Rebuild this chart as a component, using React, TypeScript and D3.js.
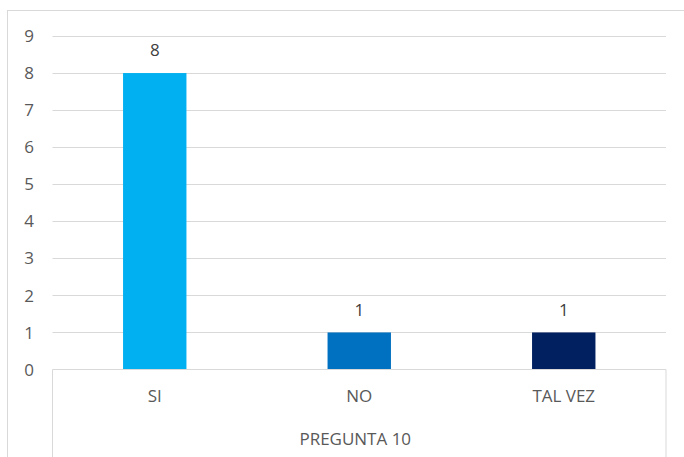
import React from "react";
import * as d3 from "d3";

const categories = ["SI", "NO", "TAL VEZ"];
const values = [8, 1, 1];
const colors = ["#00B0F0", "#0070C0", "#002060"];
const yTicks = [0, 1, 2, 3, 4, 5, 6, 7, 8, 9];
const groupLabel = "PREGUNTA 10";

export default function App() {
  const W = 684, H = 457;
  const left = 52.5, right = 666, top = 36, bottom = 369.5;
  const x = d3.scaleBand<string>().domain(categories).range([left, right]).paddingInner(0.69).paddingOuter(0.345);
  const y = d3.scaleLinear().domain([0, 9]).range([bottom, top]);
  const font = "'Open Sans', 'Liberation Sans', sans-serif";
  const textColor = "#595959";
  const fs = 17;
  return (
    <svg width={W} height={H} style={{ position: "absolute", left: 0, top: 0, background: "#fff" }} fontFamily={font}>
      <rect x={7.5} y={10.5} width={W} height={H} fill="#fff" stroke="#D9D9D9" strokeWidth={1} />
      {yTicks.map((t) => (
        <g key={t}>
          {t > 0 && <line x1={left} x2={right} y1={Math.round(y(t)) + 0.5} y2={Math.round(y(t)) + 0.5} stroke="#D9D9D9" strokeWidth={1} />}
          <text x={29} y={y(t)} dy="0.36em" textAnchor="middle" fontSize={fs} fill={textColor}>{t}</text>
        </g>
      ))}
      {categories.map((c, i) => (
        <g key={c}>
          <rect x={x(c)} y={y(values[i])} width={x.bandwidth()} height={y(0) - y(values[i])} fill={colors[i]} />
          <text x={x(c)! + x.bandwidth() / 2} y={y(values[i]) - 23} dy="0.36em" textAnchor="middle" fontSize={fs} fill="#404040">{values[i]}</text>
          <text x={x(c)! + x.bandwidth() / 2} y={396} dy="0.36em" textAnchor="middle" fontSize={fs} fill={textColor}>{c}</text>
        </g>
      ))}
      <line x1={left} x2={right} y1={bottom} y2={bottom} stroke="#D9D9D9" strokeWidth={1} />
      <line x1={left} x2={left} y1={bottom} y2={H} stroke="#D9D9D9" strokeWidth={1} />
      <line x1={right} x2={right} y1={bottom} y2={H} stroke="#D9D9D9" strokeWidth={1} />
      <text x={(left + right) / 2 - 4} y={439} dy="0.36em" textAnchor="middle" fontSize={fs} fill={textColor}>{groupLabel}</text>
    </svg>
  );
}
